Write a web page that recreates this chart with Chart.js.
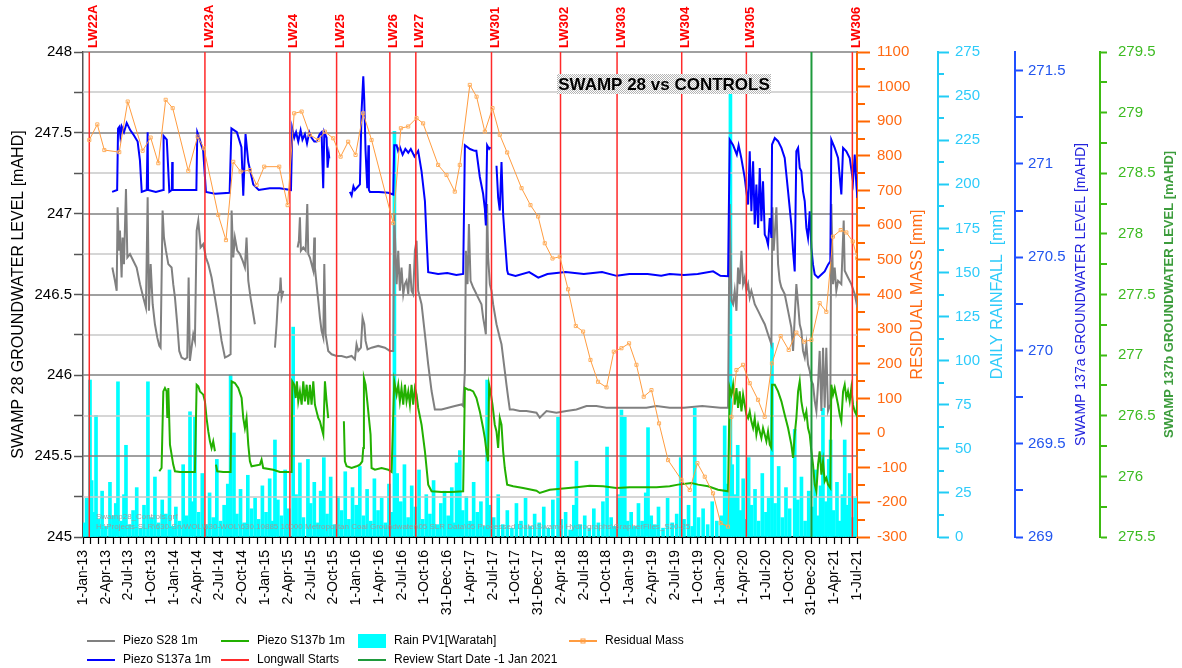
<!DOCTYPE html>
<html>
<head>
<meta charset="utf-8">
<script src="https://cdn.jsdelivr.net/npm/chart.js@4.4.1/dist/chart.umd.min.js"></script>
<style>
  html, body { margin: 0; padding: 0; background: #fff; }
  #wrap { width: 1182px; height: 668px; }
</style>
</head>
<body>
<div id="wrap"><canvas id="chart" width="1182" height="668"></canvas></div>
<script>
// quarterly date labels on the time axis (x is in decimal years)
const quarterLabels = ['1-Jan-13','2-Apr-13','2-Jul-13','1-Oct-13','1-Jan-14','2-Apr-14','2-Jul-14','2-Oct-14',
  '1-Jan-15','2-Apr-15','2-Jul-15','2-Oct-15','1-Jan-16','1-Apr-16','2-Jul-16','1-Oct-16','31-Dec-16',
  '1-Apr-17','2-Jul-17','1-Oct-17','31-Dec-17','2-Apr-18','2-Jul-18','1-Oct-18','1-Jan-19','2-Apr-19',
  '2-Jul-19','1-Oct-19','1-Jan-20','1-Apr-20','1-Jul-20','1-Oct-20','31-Dec-20','1-Apr-21','1-Jul-21'];

const longwalls = [['LW22A',2013.069],['LW23A',2014.339],['LW24',2015.272],['LW25',2015.785],['LW26',2016.370],
  ['LW27',2016.655],['LW301',2017.486],['LW302',2018.244],['LW303',2018.865],['LW304',2019.575],
  ['LW305',2020.285],['LW306',2021.449]];
const reviewStart = 2021.0;

// Piezo S28 1m  [mAHD]
const s28 = [[2013.322,246.667],[2013.351,246.585],[2013.37,246.523],[2013.38,247.039],[2013.395,246.771],[2013.406,246.895],
  [2013.424,246.605],[2013.435,246.853],[2013.45,246.688],[2013.472,247.153],[2013.487,246.729],[2013.516,246.75],[2013.552,246.709],
  [2013.589,246.667],[2013.626,246.564],[2013.662,246.481],[2013.691,246.419],[2013.71,247.101],[2013.724,246.399],[2013.743,246.688],
  [2013.765,246.44],[2013.79,246.316],[2013.816,246.233],[2013.838,246.182],[2013.852,246.171],[2013.874,247.019],[2013.889,246.853],
  [2013.911,246.771],[2013.937,246.688],[2013.973,246.667],[2013.991,246.564],[2014.01,246.481],[2014.035,246.316],[2014.057,246.151],
  [2014.083,246.11],[2014.12,246.099],[2014.145,246.11],[2014.16,246.605],[2014.174,246.089],[2014.211,246.254],[2014.229,246.213],
  [2014.248,246.895],[2014.266,246.957],[2014.291,246.791],[2014.321,246.812],[2014.35,246.729],[2014.376,246.688],[2014.412,246.605],
  [2014.449,246.481],[2014.485,246.357],[2014.522,246.213],[2014.559,246.11],[2014.595,246.12],[2014.621,246.13],[2014.632,247.019],
  [2014.65,246.729],[2014.668,246.853],[2014.694,246.771],[2014.723,246.75],[2014.753,246.709],[2014.778,246.667],[2014.796,246.853],
  [2014.815,246.585],[2014.84,246.481],[2014.87,246.378],[2014.888,246.316],[2015.0,null],
  [2015.108,246.171],[2015.126,246.316],[2015.144,246.502],[2015.162,246.523],[2015.17,246.605],[2015.181,246.481],[2015.2,246.523],[2015.28,null],
  [2015.357,246.791],[2015.371,246.833],[2015.382,246.977],[2015.393,246.771],[2015.419,246.791],[2015.445,246.771],[2015.463,247.06],
  [2015.474,246.75],[2015.492,246.729],[2015.51,246.688],[2015.529,246.647],[2015.54,246.853],[2015.547,246.667],[2015.565,246.564],
  [2015.584,246.461],[2015.602,246.357],[2015.62,246.275],[2015.639,246.233],[2015.65,246.688],[2015.664,246.254],[2015.693,246.151],
  [2015.73,246.13],[2015.785,246.12],[2015.84,246.12],[2015.895,246.11],[2015.95,246.12],[2015.986,246.099],[2016.004,246.192],
  [2016.023,246.151],[2016.052,246.171],[2016.07,246.357],[2016.089,246.316],[2016.103,246.213],[2016.125,246.161],[2016.169,246.171],
  [2016.242,246.182],[2016.315,246.171],[2016.37,246.151],[2016.407,246.151],[2016.418,246.998],[2016.444,246.564],[2016.462,246.771],
  [2016.48,246.523],[2016.498,246.667],[2016.517,246.502],[2016.535,246.564],[2016.553,246.585],[2016.572,246.502],[2016.59,246.688],
  [2016.608,246.523],[2016.626,246.502],[2016.645,246.771],[2016.663,246.833],[2016.681,246.523],[2016.718,246.44],[2016.755,246.254],
  [2016.791,246.068],[2016.828,245.903],[2016.864,245.789],[2016.937,245.789],[2017.011,245.8],[2017.084,245.81],[2017.157,245.82],
  [2017.175,245.81],[2017.194,246.027],[2017.205,246.771],[2017.223,246.564],[2017.238,246.936],[2017.256,246.585],[2017.285,246.543],
  [2017.303,246.523],[2017.339,246.481],[2017.376,246.44],[2017.394,246.357],[2017.413,246.295],[2017.424,246.254],[2017.438,247.06],
  [2017.449,246.729],[2017.468,246.564],[2017.486,246.523],[2017.504,246.44],[2017.541,246.316],[2017.577,246.233],[2017.596,246.192],
  [2017.614,246.11],[2017.632,246.027],[2017.65,245.944],[2017.669,245.862],[2017.687,245.789],[2017.724,245.789],[2017.797,245.779],
  [2017.87,245.779],[2017.98,245.769],[2018.016,245.738],[2018.09,245.779],[2018.199,245.769],[2018.309,245.779],[2018.419,245.789],
  [2018.529,245.81],[2018.638,245.81],[2018.748,245.8],[2018.858,245.8],[2018.968,245.8],[2019.077,245.8],[2019.187,245.8],
  [2019.297,245.81],[2019.443,245.8],[2019.6,245.8],[2019.8,245.81],[2020.0,245.8],[2020.084,245.8],[2020.102,247.06],[2020.121,246.461],
  [2020.139,246.44],[2020.157,246.523],[2020.176,246.399],[2020.194,246.667],[2020.212,246.564],[2020.231,246.771],[2020.249,246.564],
  [2020.267,246.605],[2020.285,246.523],[2020.304,246.564],[2020.322,246.481],[2020.34,246.523],[2020.359,246.481],[2020.377,246.44],
  [2020.414,246.399],[2020.45,246.357],[2020.487,246.316],[2020.523,246.254],[2020.56,246.192],[2020.571,247.04],[2020.585,246.771],
  [2020.615,247.04],[2020.633,246.688],[2020.651,246.585],[2020.67,246.543],[2020.706,246.502],[2020.743,246.399],[2020.779,246.295],
  [2020.798,246.151],[2020.816,246.357],[2020.834,246.564],[2020.853,246.44],[2020.871,246.316],[2020.889,246.275],[2020.907,246.151],
  [2020.926,246.11],[2020.944,246.192],[2020.962,246.068],[2020.981,246.027],[2020.999,245.965],[2021.017,245.944],[2021.036,245.841],
  [2021.054,245.779],[2021.072,245.944],[2021.09,246.151],[2021.109,245.779],[2021.127,246.171],[2021.145,245.8],[2021.163,246.171],
  [2021.182,245.779],[2021.207,245.82],[2021.218,247.06],[2021.237,246.564],[2021.255,246.667],[2021.273,246.523],[2021.292,246.585],
  [2021.328,246.564],[2021.354,246.957],[2021.365,246.647],[2021.401,246.605],[2021.438,246.564],[2021.475,246.502],[2021.504,246.419]];

// Piezo S137a 1m  [mAHD]
const s137a = [[2013.32,270.85],[2013.375,270.86],[2013.385,271.19],[2013.40,271.20],[2013.41,271.15],[2013.425,271.20],[2013.45,271.17],
  [2013.48,271.22],[2013.52,271.18],[2013.55,271.16],[2013.60,271.12],[2013.625,271.02],[2013.645,270.85],[2013.70,270.86],[2013.71,271.17],
  [2013.715,270.86],[2013.80,270.85],[2013.88,270.86],[2013.885,271.15],[2013.92,271.13],[2013.948,270.85],[2013.975,270.86],[2013.98,271.01],
  [2013.985,270.86],[2014.10,270.86],[2014.245,270.86],[2014.255,271.17],[2014.27,271.15],[2014.32,271.07],[2014.35,270.85],[2014.45,270.84],
  [2014.61,270.845],[2014.63,271.19],[2014.69,271.17],[2014.74,271.09],[2014.76,270.83],[2014.785,271.16],[2014.815,271.01],[2014.87,270.89],
  [2014.93,270.86],[2015.05,270.87],[2015.16,270.87],[2015.284,270.86],[2015.298,271.19],[2015.32,271.14],[2015.34,271.17],[2015.364,271.12],
  [2015.39,271.18],[2015.41,271.13],[2015.437,271.16],[2015.46,271.11],[2015.485,271.17],[2015.51,271.14],[2015.54,271.12],[2015.565,271.12],
  [2015.60,271.16],[2015.62,271.17],[2015.638,270.87],[2015.65,271.17],[2015.675,271.14],[2015.686,270.98],[2015.70,271.05],[2015.705,271.03],
  [2015.80,null],
  [2015.931,270.85],[2015.95,270.83],[2015.97,270.88],[2015.986,270.86],[2016.041,270.89],[2016.059,271.28],[2016.078,271.47],[2016.089,271.34],
  [2016.103,271.07],[2016.122,270.87],[2016.135,271.10],[2016.14,270.86],[2016.151,270.85],[2016.25,270.85],[2016.352,270.845],[2016.407,270.836],
  [2016.418,271.10],[2016.444,271.10],[2016.46,271.07],[2016.48,271.09],[2016.51,271.05],[2016.54,271.08],[2016.572,271.06],[2016.60,271.08],
  [2016.64,271.04],[2016.681,271.07],[2016.718,270.96],[2016.755,270.80],[2016.773,270.60],[2016.791,270.42],[2016.9,270.41],[2017.0,270.415],
  [2017.1,270.405],[2017.175,270.41],[2017.194,271.10],[2017.25,271.08],[2017.30,271.07],[2017.32,271.07],[2017.358,270.93],[2017.394,270.84],
  [2017.413,270.76],[2017.424,270.67],[2017.438,271.10],[2017.46,271.08],[2017.475,271.09],[2017.51,null],
  [2017.541,270.99],[2017.559,270.82],[2017.577,270.75],[2017.596,271.01],[2017.614,270.73],[2017.632,270.60],[2017.658,270.43],[2017.669,270.41],
  [2017.75,270.40],[2017.9,270.42],[2018.0,270.39],[2018.1,270.41],[2018.3,270.42],[2018.5,270.41],[2018.7,270.42],[2018.86,270.40],
  [2019.0,270.41],[2019.2,270.41],[2019.35,270.40],[2019.443,270.41],[2019.6,270.405],[2019.75,270.41],[2019.92,270.424],[2020.0,270.40],
  [2020.084,270.398],[2020.102,271.13],[2020.14,271.10],[2020.18,271.05],[2020.20,271.10],[2020.23,271.03],[2020.267,270.925],[2020.285,270.853],
  [2020.304,270.782],[2020.322,271.068],[2020.34,270.746],[2020.359,271.014],[2020.377,270.675],[2020.395,270.889],[2020.414,270.657],
  [2020.432,270.978],[2020.45,270.693],[2020.468,270.907],[2020.487,270.621],[2020.505,270.603],[2020.523,270.567],[2020.542,270.71],
  [2020.56,270.603],[2020.567,271.104],[2020.597,271.139],[2020.633,271.122],[2020.67,271.086],[2020.706,271.032],[2020.743,270.853],
  [2020.779,270.675],[2020.798,270.532],[2020.816,270.424],[2020.834,271.068],[2020.853,271.086],[2020.871,270.978],[2020.889,270.96],
  [2020.907,270.853],[2020.926,270.8],[2020.944,270.657],[2020.962,270.603],[2020.981,270.746],[2020.999,270.55],[2021.017,270.46],
  [2021.036,270.407],[2021.072,270.39],[2021.109,270.407],[2021.145,270.424],[2021.182,270.46],[2021.207,270.478],[2021.218,271.13],
  [2021.255,271.086],[2021.292,271.032],[2021.328,270.836],[2021.347,271.086],[2021.383,271.068],[2021.42,271.032],[2021.456,270.907],
  [2021.475,271.05],[2021.493,270.889],[2021.504,270.818]];

// Piezo S137b 1m  [mAHD]
const s137b = [[2013.838,276.042],[2013.863,276.069],[2013.882,276.701],[2013.9,276.729],[2013.918,276.701],[2013.926,276.481],
  [2013.937,276.729],[2013.955,276.262],[2013.973,276.179],[2013.991,276.097],[2014.01,276.042],[2014.065,276.036],[2014.138,276.036],
  [2014.229,276.036],[2014.248,276.756],[2014.266,276.743],[2014.284,276.701],[2014.321,276.674],[2014.339,276.619],[2014.357,276.481],
  [2014.376,276.371],[2014.394,276.289],[2014.412,276.234],[2014.43,276.289],[2014.449,276.207],[2014.455,null],[2014.46,276.097],
  [2014.474,276.042],[2014.54,276.036],[2014.621,276.036],[2014.632,276.784],[2014.668,276.77],[2014.705,276.729],[2014.742,276.646],
  [2014.76,276.481],[2014.778,276.399],[2014.796,276.481],[2014.815,276.262],[2014.833,276.124],[2014.851,276.083],[2014.943,276.097],
  [2014.961,276.138],[2014.979,276.069],[2015.089,276.055],[2015.162,276.036],[2015.291,276.036],[2015.298,276.784],[2015.32,276.756],
  [2015.335,276.646],[2015.349,276.784],[2015.364,276.619],[2015.382,276.701],[2015.401,276.591],[2015.419,276.784],[2015.437,276.619],
  [2015.456,276.756],[2015.474,276.591],[2015.492,276.756],[2015.51,276.591],[2015.529,276.784],[2015.547,276.591],[2015.565,276.536],
  [2015.584,276.481],[2015.602,276.454],[2015.62,276.399],[2015.639,276.344],[2015.657,276.784],[2015.675,276.619],[2015.693,276.481],
  [2015.78,null],[2015.865,276.454],[2015.876,276.124],[2015.895,276.083],[2015.95,276.069],[2016.004,276.083],[2016.041,276.097],
  [2016.067,276.124],[2016.078,276.234],[2016.085,276.811],[2016.103,276.756],[2016.122,276.619],[2016.14,276.481],[2016.158,276.344],
  [2016.169,276.069],[2016.206,276.055],[2016.279,276.069],[2016.352,276.055],[2016.389,276.036],[2016.418,276.784],[2016.444,276.674],
  [2016.462,276.756],[2016.48,276.619],[2016.498,276.729],[2016.517,276.591],[2016.535,276.756],[2016.553,276.619],[2016.572,276.701],
  [2016.59,276.591],[2016.608,276.756],[2016.626,276.591],[2016.645,276.729],[2016.663,276.674],[2016.681,276.564],[2016.718,276.426],
  [2016.755,276.207],[2016.791,275.932],[2016.828,275.877],[2016.937,275.871],[2017.047,275.871],[2017.175,275.877],[2017.194,276.729],
  [2017.23,276.715],[2017.248,276.715],[2017.285,276.701],[2017.321,276.646],[2017.358,276.536],[2017.394,276.399],[2017.413,276.316],
  [2017.431,276.207],[2017.449,276.124],[2017.46,276.756],[2017.475,276.701],[2017.497,276.591],[2017.522,276.426],[2017.541,276.371],
  [2017.559,276.234],[2017.577,276.481],[2017.596,276.426],[2017.614,276.207],[2017.632,276.069],[2017.658,275.932],[2017.724,275.918],
  [2017.833,275.904],[2017.98,275.882],[2018.016,275.863],[2018.126,275.89],[2018.272,275.899],[2018.419,275.91],[2018.565,275.923],
  [2018.712,275.918],[2018.858,275.904],[2019.004,275.91],[2019.151,275.91],[2019.297,275.91],[2019.443,275.918],[2019.535,275.932],
  [2019.682,275.945],[2019.755,275.932],[2019.865,275.918],[2019.974,275.89],[2020.084,275.877],[2020.102,276.729],[2020.121,276.674],
  [2020.139,276.756],[2020.157,276.591],[2020.176,276.729],[2020.194,276.564],[2020.212,276.701],[2020.231,276.536],[2020.249,276.674],
  [2020.267,276.591],[2020.285,276.509],[2020.304,276.481],[2020.322,276.536],[2020.34,276.454],[2020.359,276.399],[2020.377,276.481],
  [2020.395,276.344],[2020.414,276.426],[2020.432,276.371],[2020.45,276.316],[2020.468,276.399],[2020.487,276.344],[2020.505,276.289],
  [2020.523,276.371],[2020.542,276.262],[2020.56,276.234],[2020.567,276.756],[2020.597,276.756],[2020.633,276.701],[2020.67,276.619],
  [2020.706,276.509],[2020.743,276.399],[2020.779,276.262],[2020.798,276.152],[2020.816,276.344],[2020.834,276.481],[2020.853,276.701],
  [2020.871,276.784],[2020.889,276.619],[2020.907,276.536],[2020.926,276.481],[2020.944,276.536],[2020.962,276.399],[2020.981,276.344],
  [2020.999,276.207],[2021.017,276.097],[2021.036,275.932],[2021.054,275.877],[2021.072,276.097],[2021.09,276.207],[2021.109,276.014],
  [2021.127,276.124],[2021.145,275.959],[2021.163,275.987],[2021.182,275.932],[2021.207,275.904],[2021.218,276.756],[2021.237,276.674],
  [2021.255,276.729],[2021.292,276.591],[2021.31,276.509],[2021.328,276.454],[2021.347,276.701],[2021.365,276.756],[2021.383,276.646],
  [2021.401,276.701],[2021.42,276.619],[2021.438,276.729],[2021.456,276.591],[2021.475,276.536],[2021.493,276.509],[2021.504,276.619]];

// Rain PV1 [Waratah], daily rainfall [mm]
const rain = [[2013.01,8],[2013.04,22],[2013.077,89],[2013.095,32],[2013.12,14],[2013.143,69],[2013.17,10],[2013.21,26],[2013.25,6],
  [2013.296,31],[2013.33,12],[2013.36,19],[2013.384,88],[2013.42,9],[2013.45,24],[2013.472,52],[2013.51,7],[2013.55,15],[2013.59,28],
  [2013.63,5],[2013.67,18],[2013.713,88],[2013.75,11],[2013.79,34],[2013.83,8],[2013.87,21],[2013.91,13],[2013.95,38],[2013.98,6],
  [2014.02,17],[2014.06,9],[2014.10,41],[2014.14,12],[2014.175,71],[2014.20,20],[2014.229,68],[2014.27,14],[2014.31,36],[2014.35,7],
  [2014.39,25],[2014.43,11],[2014.47,44],[2014.51,9],[2014.55,18],[2014.59,30],[2014.621,92],[2014.658,59],[2014.69,13],[2014.73,27],
  [2014.77,8],[2014.81,35],[2014.85,16],[2014.89,22],[2014.93,10],[2014.97,29],
  [2015.01,14],[2015.05,33],[2015.08,9],[2015.108,55],[2015.14,21],[2015.18,12],[2015.22,38],[2015.26,16],[2015.308,119],[2015.34,24],
  [2015.382,42],[2015.42,11],[2015.47,44],[2015.50,19],[2015.54,31],[2015.58,8],[2015.61,26],[2015.645,45],[2015.68,13],[2015.72,34],
  [2015.76,7],[2015.80,23],[2015.84,15],[2015.88,37],[2015.92,10],[2015.96,28],
  [2016.00,18],[2016.04,40],[2016.08,12],[2016.12,27],[2016.16,9],[2016.20,33],[2016.24,15],[2016.28,22],[2016.32,8],[2016.36,30],
  [2016.39,14],[2016.42,230],[2016.45,36],[2016.49,20],[2016.53,41],[2016.57,11],[2016.61,29],[2016.65,17],[2016.69,38],[2016.73,10],
  [2016.77,24],[2016.81,13],[2016.85,32],[2016.89,7],[2016.93,19],[2016.97,26],
  [2017.01,12],[2017.05,28],[2017.08,8],[2017.102,42],[2017.138,49],[2017.17,15],[2017.21,23],[2017.25,9],[2017.29,31],[2017.33,14],
  [2017.37,20],[2017.41,6],[2017.438,89],[2017.47,18],[2017.51,11],[2017.56,24],[2017.61,7],[2017.66,15],[2017.71,5],[2017.76,19],
  [2017.81,9],[2017.86,22],[2017.91,6],[2017.96,13],
  [2018.01,8],[2018.06,17],[2018.11,5],[2018.16,21],[2018.217,68],[2018.25,10],[2018.30,14],[2018.35,4],[2018.39,18],[2018.419,43],
  [2018.46,7],[2018.51,12],[2018.56,5],[2018.61,16],[2018.66,8],[2018.71,20],[2018.755,51],[2018.80,11],[2018.84,6],[2018.88,24],
  [2018.913,72],[2018.95,68],[2018.98,9],
  [2019.02,14],[2019.06,6],[2019.10,19],[2019.14,9],[2019.18,25],[2019.205,62],[2019.24,12],[2019.28,7],[2019.32,17],[2019.37,5],
  [2019.42,22],[2019.47,8],[2019.52,13],[2019.564,45],[2019.60,10],[2019.65,18],[2019.69,6],[2019.718,73],[2019.76,11],[2019.81,16],
  [2019.86,7],[2019.91,20],[2019.96,9],
  [2020.01,12],[2020.047,63],[2020.08,30],[2020.11,252],[2020.13,41],[2020.16,24],[2020.19,52],[2020.22,15],[2020.25,33],[2020.28,10],
  [2020.31,45],[2020.34,18],[2020.38,27],[2020.42,9],[2020.46,36],[2020.50,14],[2020.53,22],[2020.566,110],[2020.60,19],[2020.64,40],
  [2020.68,11],[2020.72,28],[2020.76,16],[2020.816,61],[2020.85,21],[2020.89,34],[2020.93,9],[2020.97,26],
  [2021.01,17],[2021.04,38],[2021.07,12],[2021.10,29],[2021.126,73],[2021.16,20],[2021.19,44],[2021.21,55],[2021.24,15],[2021.28,31],
  [2021.31,9],[2021.34,24],[2021.365,55],[2021.39,18],[2021.42,36],[2021.45,11],[2021.48,22]];

// Residual mass [mm]
const residualMass = [[2013.069,846],[2013.157,891],[2013.234,817],[2013.398,811],[2013.491,957],[2013.655,815],[2013.743,853],
  [2013.827,779],[2013.908,962],[2013.985,938],[2014.156,757],[2014.259,856],[2014.328,822],[2014.485,630],[2014.570,557],[2014.650,783],
  [2014.731,755],[2014.833,759],[2014.907,716],[2014.990,769],[2015.155,769],[2015.247,658],[2015.319,923],[2015.401,928],[2015.492,861],
  [2015.583,846],[2015.656,870],[2015.748,851],[2015.829,798],[2015.912,841],[2015.993,803],[2016.077,923],[2016.169,846],[2016.406,606],
  [2016.491,880],[2016.571,885],[2016.663,909],[2016.735,894],[2016.900,774],[2016.992,745],[2017.083,697],[2017.138,774],[2017.248,1005],
  [2017.322,971],[2017.413,870],[2017.497,938],[2017.577,861],[2017.658,810],[2017.816,707],[2017.914,658],[2017.998,625],[2018.071,548],
  [2018.156,504],[2018.236,509],[2018.327,415],[2018.412,309],[2018.492,293],[2018.573,211],[2018.656,148],[2018.749,132],[2018.829,235],
  [2018.913,245],[2018.997,259],[2019.078,197],[2019.158,105],[2019.243,124],[2019.326,28],[2019.425,-78],[2019.572,-135],[2019.663,-164],
  [2019.747,-87],[2019.828,-126],[2019.919,-174],[2020.003,-260],[2020.083,-270],[2020.121,47],[2020.176,182],[2020.248,197],[2020.322,144],
  [2020.413,96],[2020.486,47],[2020.566,201],[2020.662,280],[2020.750,240],[2020.834,290],[2020.918,264],[2020.999,269],[2021.090,375],
  [2021.163,350],[2021.236,567],[2021.321,586],[2021.383,579],[2021.454,553],[2021.502,505]];

const FONT = '"Liberation Sans", Arial, sans-serif';
Chart.defaults.font.family = FONT;

const C = {
  gray: '#808080', blue: '#0000ff', green: '#22b000', rain: '#00ffff', orange: '#ff9c40',
  red: '#ff2a2a', review: '#1e9a3c',
  axOrange: '#ff6600', axCyan: '#22ccf5', axBlue: '#1f4fff', axGreen: '#3dbb12'
};

const toXY = arr => arr.map(([x, y]) => ({ x, y }));
const onStep = (v, step) => { const r = v / step; return Math.abs(r - Math.round(r)) < 1e-6; };
const plain = v => String(Math.round(v * 1000) / 1000);

const monthTicks = [];
for (let i = 0; i <= (quarterLabels.length - 1) * 3; i++) monthTicks.push(2013 + i / 12);

const lwLine = [];
longwalls.forEach(([, t]) => lwLine.push({ x: t, y: 245 }, { x: t, y: 248 }, { x: t, y: null }));

function keepSteps(step) {
  return ax => { ax.ticks = ax.ticks.filter(t => onStep(t.value - ax.min, step)); };
}

function rightAxis(min, max, step, color, labelColor, width, tickLen, pad, weight) {
  return {
    position: 'right', min, max, weight,
    afterBuildTicks: keepSteps(step),
    afterFit: ax => { ax.width = width; },
    grid: { drawOnChartArea: false, tickLength: tickLen, tickColor: color, tickWidth: 2 },
    border: { color, width: 2 },
    ticks: { stepSize: step, color: labelColor, padding: pad, font: { size: 15 }, callback: plain }
  };
}

// minor ticks [step, length] on the right axes
const minorTicks = { yRes: [50, 8], yRain: [12.5, 6], yBlue: [0.25, 8], yGreen: [0.25, 7] };

const gridAfterRain = {
  id: 'gridAfterRain',
  afterDatasetDraw(chart, args) {
    if (chart.data.datasets[args.index].label !== 'Rain PV1[Waratah]') return;
    const { ctx, chartArea: a, scales: { y } } = chart;
    ctx.save();
    y.ticks.forEach(t => {
      if (t.value <= 245) return;
      const py = Math.round(y.getPixelForValue(t.value));
      ctx.strokeStyle = onStep(t.value, 0.5) ? '#808080' : '#c8c8c8';
      ctx.lineWidth = 1.5;
      ctx.beginPath(); ctx.moveTo(a.left, py); ctx.lineTo(a.right, py); ctx.stroke();
    });
    ctx.restore();
  }
};

function vText(ctx, text, x, y, font, color) {
  ctx.save();
  ctx.translate(x, y);
  ctx.rotate(-Math.PI / 2);
  ctx.font = font; ctx.fillStyle = color;
  ctx.textAlign = 'center'; ctx.textBaseline = 'middle';
  ctx.fillText(text, 0, 0);
  ctx.restore();
}

const decorations = {
  id: 'decorations',
  afterDraw(chart) {
    const { ctx, chartArea: a, scales } = chart;
    const midY = (a.top + a.bottom) / 2;

    // minor ticks
    Object.entries(minorTicks).forEach(([id, [step, len]]) => {
      const s = scales[id];
      const major = s.options.ticks.stepSize;
      const n = Math.floor((s.max - s.min) / step + 1e-6);
      ctx.save();
      ctx.strokeStyle = s.options.border.color; ctx.lineWidth = 2;
      for (let i = 0; i <= n; i++) {
        const v = s.min + i * step;
        if (onStep(v - s.min, major)) continue;
        const py = Math.round(s.getPixelForValue(v));
        ctx.beginPath(); ctx.moveTo(s.left, py); ctx.lineTo(s.left + len, py); ctx.stroke();
      }
      ctx.restore();
    });

    // axis titles
    vText(ctx, 'SWAMP 28 GROUNDWATER LEVEL [mAHD]', 19, midY, '16px ' + FONT, '#000');
    vText(ctx, 'RESIDUAL MASS [mm]', scales.yRes.left + 61, midY, '16px ' + FONT, '#ff6a13');
    vText(ctx, 'DAILY RAINFALL  [mm]', scales.yRain.left + 60, midY, '16px ' + FONT, '#2ecbfa');
    vText(ctx, 'SWAMP 137a GROUNDWATER LEVEL [mAHD]', scales.yBlue.left + 66, midY, '14px ' + FONT, '#2424dd');
    vText(ctx, 'SWAMP 137b GROUNDWATER LEVEL [mAHD]', scales.yGreen.left + 69, midY, 'bold 13px ' + FONT, '#3c9c3c');

    // longwall labels
    ctx.save();
    ctx.font = 'bold 13px ' + FONT; ctx.fillStyle = '#ff0000';
    ctx.textAlign = 'left'; ctx.textBaseline = 'middle';
    longwalls.forEach(([name, t]) => {
      const px = scales.x.getPixelForValue(t);
      ctx.save(); ctx.translate(px + 4, a.top - 4); ctx.rotate(-Math.PI / 2);
      ctx.fillText(name, 0, 0); ctx.restore();
    });
    ctx.restore();

    // title box with halftone background
    const pc = document.createElement('canvas'); pc.width = 2; pc.height = 2;
    const pctx = pc.getContext('2d');
    pctx.fillStyle = '#ffffff'; pctx.fillRect(0, 0, 2, 2);
    pctx.fillStyle = '#b4b4b4'; pctx.fillRect(0, 0, 1, 1); pctx.fillRect(1, 1, 1, 1);
    ctx.save();
    ctx.fillStyle = ctx.createPattern(pc, 'repeat');
    ctx.fillRect(557, 74, 214, 20);
    ctx.font = 'bold 17px ' + FONT; ctx.fillStyle = '#000';
    ctx.textAlign = 'center'; ctx.textBaseline = 'middle';
    ctx.fillText('SWAMP 28 vs CONTROLS', 664, 85);
    ctx.restore();

    // file note
    ctx.save();
    ctx.font = '8px ' + FONT; ctx.fillStyle = '#9a9a9a'; ctx.textBaseline = 'middle';
    ctx.fillText('Swamp28_Controls.grf', 96, 517);
    ctx.fillText('H:\\Projects-SLR\\630-SrvWOL\\630-WOL\\630.10885 10000 Metropolitan Coal Groundwater\\05 SLR Data\\05 Processed Data\\Swamp Hydrographs\\GrapherFiles_S20-25', 96, 527);
    ctx.restore();

    // legend
    const rows = [641, 660];
    const cols = [87, 221, 358, 569];
    const items = [
      [0, 0, 'line', C.gray, 'Piezo S28 1m'], [0, 1, 'line', C.green, 'Piezo S137b 1m'],
      [0, 2, 'box', C.rain, 'Rain PV1[Waratah]'], [0, 3, 'mark', C.orange, 'Residual Mass'],
      [1, 0, 'line', C.blue, 'Piezo S137a 1m'], [1, 1, 'line', C.red, 'Longwall Starts'],
      [1, 2, 'line', C.review, 'Review Start Date -1 Jan 2021']
    ];
    ctx.save();
    ctx.font = '12px ' + FONT; ctx.textBaseline = 'middle'; ctx.textAlign = 'left';
    items.forEach(([r, c, kind, color, text]) => {
      const x0 = cols[c], y0 = rows[r];
      if (kind === 'box') {
        ctx.fillStyle = color; ctx.fillRect(x0, y0 - 7, 28, 14);
      } else {
        ctx.strokeStyle = color; ctx.lineWidth = 2;
        ctx.beginPath(); ctx.moveTo(x0, y0); ctx.lineTo(x0 + 28, y0); ctx.stroke();
        if (kind === 'mark') { ctx.lineWidth = 1; ctx.strokeRect(x0 + 12, y0 - 2, 4, 4); }
      }
      ctx.fillStyle = '#000';
      ctx.fillText(text, x0 + 36, y0);
    });
    ctx.restore();
  }
};

new Chart(document.getElementById('chart'), {
  type: 'line',
  data: {
    datasets: [
      { type: 'bar', label: 'Rain PV1[Waratah]', data: toXY(rain), yAxisID: 'yRain', backgroundColor: C.rain,
        barThickness: 3, grouped: false, order: 10 },
      { label: 'Piezo S28 1m', data: toXY(s28), yAxisID: 'y', borderColor: C.gray, borderWidth: 2, pointRadius: 0, order: 6 },
      { label: 'Piezo S137b 1m', data: toXY(s137b), yAxisID: 'yGreen', borderColor: C.green, borderWidth: 2, pointRadius: 0, order: 5 },
      { label: 'Piezo S137a 1m', data: toXY(s137a), yAxisID: 'yBlue', borderColor: C.blue, borderWidth: 2, pointRadius: 0, order: 4 },
      { label: 'Longwall Starts', data: lwLine, yAxisID: 'y', borderColor: C.red, borderWidth: 1.5, pointRadius: 0, order: 3 },
      { label: 'Review Start Date -1 Jan 2021', data: [{ x: reviewStart, y: 245 }, { x: reviewStart, y: 248 }], yAxisID: 'y',
        borderColor: C.review, borderWidth: 2, pointRadius: 0, order: 2 },
      { label: 'Residual Mass', data: toXY(residualMass), yAxisID: 'yRes', borderColor: C.orange, borderWidth: 1,
        pointStyle: 'rect', pointRadius: 2.2, pointBorderWidth: 1, pointBorderColor: '#ffb060',
        pointBackgroundColor: 'rgba(0,0,0,0)', order: 1 }
    ]
  },
  options: {
    responsive: false,
    animation: false,
    devicePixelRatio: 1,
    spanGaps: false,
    layout: { padding: { top: 52, left: 0, right: 0, bottom: 0 } },
    plugins: { legend: { display: false }, tooltip: { enabled: false } },
    scales: {
      x: {
        type: 'linear', min: 2013, max: 2021.5, offset: false,
        afterBuildTicks: ax => { ax.ticks = monthTicks.map(v => ({ value: v })); },
        afterFit: ax => { ax.height = 131; },
        grid: { offset: false, drawOnChartArea: false, tickLength: 7, tickColor: '#000', tickWidth: 1.2 },
        border: { color: '#000', width: 2 },
        ticks: { autoSkip: false, minRotation: 90, maxRotation: 90, padding: 6, color: '#000', font: { size: 14 },
          callback: (v, i) => (i % 3 === 0 ? quarterLabels[i / 3] : '') }
      },
      y: {
        position: 'left', min: 245, max: 248,
        afterBuildTicks: keepSteps(0.25),
        afterFit: ax => { ax.width = 83; },
        grid: { drawOnChartArea: false, tickLength: 9, tickColor: '#555', tickWidth: 1.5 },
        border: { color: '#555', width: 1.5 },
        ticks: { stepSize: 0.25, color: '#000', padding: 2, font: { size: 15 },
          callback: v => (onStep(v, 0.5) ? plain(v) : '') }
      },
      yRes: rightAxis(-300, 1100, 100, C.axOrange, '#ff6a13', 81, 13, 7, 1),
      yRain: rightAxis(0, 275, 25, C.axCyan, '#2ecbfa', 77, 11, 6, 2),
      yBlue: rightAxis(269, 271.6, 0.5, C.axBlue, '#2255ee', 85, 8, 5, 3),
      yGreen: rightAxis(275.5, 279.5, 0.5, C.axGreen, '#3dbb22', 82, 7, 11, 4)
    }
  },
  plugins: [gridAfterRain, decorations]
});
</script>
</body>
</html>
